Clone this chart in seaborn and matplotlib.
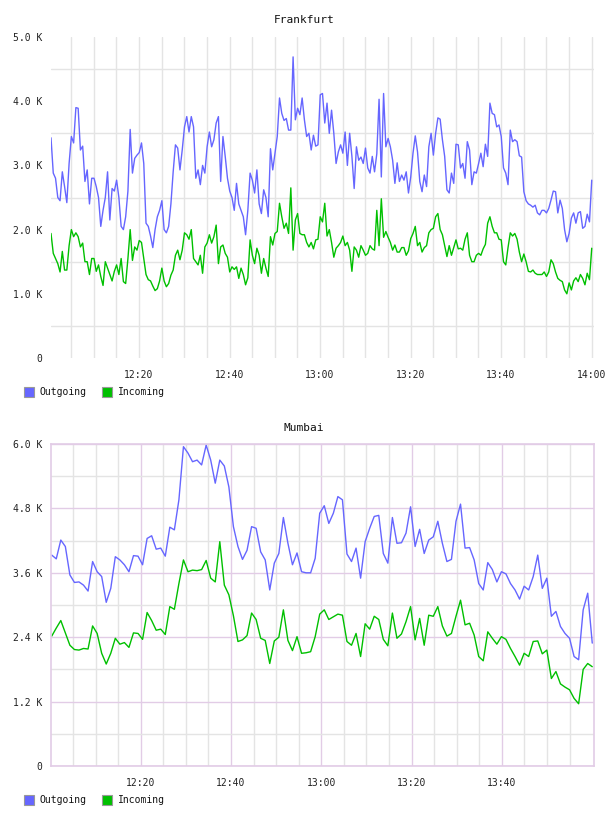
import numpy as np
import pandas as pd
import matplotlib
matplotlib.use("Agg")
import matplotlib.pyplot as plt
from matplotlib.patches import Rectangle
import seaborn as sns

sns.set_theme(style="white")
plt.rcParams['font.family'] = ['DejaVu Sans Mono', 'DejaVu Sans']

# ---------------- data ----------------
series_names = ["Outgoing", "Incoming"]
series_colors = ["#6666ff", "#00c000"]
panel_titles = ["Frankfurt", "Mumbai"]

# minutes after 12:00 for tick marks
time_ticks = [20, 40, 60, 80, 100, 120]
time_labels = ["12:20", "12:40", "13:00", "13:20", "13:40", "14:00"]

fra_yticks = [0, 1, 2, 3, 4, 5]
fra_ylabels = ["0", "1.0 K", "2.0 K", "3.0 K", "4.0 K", "5.0 K"]
mum_yticks = [0, 1.2, 2.4, 3.6, 4.8, 6.0]
mum_ylabels = ["0", "1.2 K", "2.4 K", "3.6 K", "4.8 K", "6.0 K"]

# Frankfurt: values in thousands, one sample every 30 s
fra_out = [3.43, 2.88, 2.80, 2.50, 2.45, 2.90, 2.67, 2.42, 3.03, 3.45,
           3.35, 3.90, 3.89, 3.24, 3.30, 2.75, 2.93, 2.40, 2.80, 2.80,
           2.67, 2.50, 2.05, 2.30, 2.50, 2.90, 2.15, 2.64, 2.60, 2.77,
           2.50, 2.05, 2.00, 2.20, 2.60, 3.56, 2.88, 3.11, 3.16, 3.20,
           3.35, 3.03, 2.10, 2.05, 1.90, 1.72, 2.00, 2.20, 2.30, 2.45,
           2.00, 1.95, 2.05, 2.40, 2.90, 3.32, 3.27, 2.93, 3.24, 3.60,
           3.76, 3.52, 3.76, 3.60, 2.80, 2.93, 2.70, 3.00, 2.88, 3.29,
           3.52, 3.29, 3.40, 3.66, 3.76, 2.75, 3.45, 3.14, 2.80, 2.60,
           2.50, 2.30, 2.72, 2.40, 2.30, 2.20, 1.92, 2.30, 2.88, 2.77,
           2.57, 2.93, 2.40, 2.25, 2.62, 2.50, 2.20, 3.26, 2.93, 3.19,
           3.45, 4.05, 3.81, 3.70, 3.73, 3.55, 3.55, 4.69, 3.71, 3.89,
           3.79, 4.05, 3.71, 3.45, 3.50, 3.24, 3.47, 3.30, 3.32, 4.10,
           4.12, 3.66, 3.97, 3.50, 3.86, 3.50, 3.03, 3.21, 3.32, 3.19,
           3.52, 3.00, 3.50, 3.14, 2.64, 3.29, 3.08, 3.13, 3.03, 3.27,
           2.96, 2.88, 3.14, 2.90, 3.18, 4.03, 2.82, 4.12, 3.29, 3.42,
           3.29, 3.08, 2.72, 3.04, 2.75, 2.85, 2.77, 2.90, 2.57, 2.82,
           3.19, 3.46, 3.21, 2.75, 2.59, 2.85, 2.67, 3.29, 3.50, 3.16,
           3.50, 3.74, 3.72, 3.40, 3.14, 2.62, 2.57, 2.88, 2.72, 3.33,
           3.32, 2.96, 3.03, 2.80, 3.37, 3.24, 2.70, 2.90, 2.88, 3.03,
           3.19, 2.98, 3.33, 3.14, 3.97, 3.81, 3.79, 3.60, 3.63, 3.45,
           2.96, 2.88, 2.70, 3.55, 3.37, 3.40, 3.37, 3.15, 3.13, 2.59,
           2.45, 2.40, 2.38, 2.35, 2.38, 2.26, 2.23, 2.30, 2.30, 2.26,
           2.33, 2.46, 2.60, 2.59, 2.26, 2.46, 2.33, 2.00, 1.81, 1.94,
           2.18, 2.26, 2.10, 2.26, 2.28, 2.02, 2.05, 2.24, 2.12, 2.77]

fra_in = [1.94, 1.63, 1.55, 1.47, 1.34, 1.66, 1.37, 1.37, 1.75, 2.00,
          1.89, 1.95, 1.89, 1.73, 1.79, 1.50, 1.50, 1.30, 1.55, 1.55,
          1.35, 1.45, 1.27, 1.13, 1.50, 1.40, 1.30, 1.20, 1.35, 1.45,
          1.30, 1.55, 1.19, 1.16, 1.55, 2.00, 1.52, 1.73, 1.68, 1.83,
          1.80, 1.55, 1.30, 1.22, 1.20, 1.12, 1.05, 1.08, 1.20, 1.40,
          1.20, 1.11, 1.16, 1.29, 1.37, 1.60, 1.68, 1.53, 1.68, 1.95,
          1.92, 1.85, 2.00, 1.55, 1.50, 1.45, 1.60, 1.32, 1.73, 1.79,
          1.92, 1.79, 1.89, 2.07, 1.47, 1.73, 1.76, 1.63, 1.57, 1.34,
          1.42, 1.38, 1.42, 1.24, 1.40, 1.30, 1.14, 1.25, 1.84, 1.60,
          1.47, 1.71, 1.60, 1.32, 1.55, 1.40, 1.27, 1.89, 1.76, 1.94,
          1.97, 2.41, 2.20, 2.02, 2.10, 1.94, 2.65, 1.68, 2.15, 2.25,
          1.94, 1.92, 1.92, 1.80, 1.73, 1.80, 1.70, 1.84, 1.85, 2.20,
          2.12, 2.41, 1.90, 2.00, 1.80, 1.57, 1.71, 1.75, 1.80, 1.90,
          1.75, 1.80, 1.68, 1.35, 1.73, 1.68, 1.57, 1.75, 1.68, 1.60,
          1.63, 1.75, 1.70, 1.68, 2.30, 1.75, 2.48, 1.88, 1.97, 1.88,
          1.80, 1.68, 1.76, 1.65, 1.65, 1.72, 1.72, 1.60, 1.67, 1.86,
          1.94, 2.05, 1.75, 1.80, 1.65, 1.72, 1.75, 1.95, 2.00, 2.02,
          2.20, 2.25, 2.00, 1.92, 1.75, 1.58, 1.75, 1.60, 1.72, 1.84,
          1.70, 1.71, 1.68, 1.85, 1.95, 1.60, 1.50, 1.50, 1.60, 1.63,
          1.60, 1.70, 1.77, 2.10, 2.20, 2.05, 1.95, 1.95, 1.85, 1.84,
          1.50, 1.45, 1.72, 1.95, 1.90, 1.94, 1.85, 1.65, 1.50, 1.62,
          1.50, 1.35, 1.34, 1.37, 1.32, 1.30, 1.30, 1.30, 1.34, 1.27,
          1.34, 1.53, 1.47, 1.34, 1.24, 1.21, 1.19, 1.06, 1.00, 1.17,
          1.06, 1.20, 1.25, 1.19, 1.30, 1.24, 1.14, 1.32, 1.22, 1.71]

# Mumbai: values in thousands, about one sample per minute
mum_out = [3.93, 3.86, 4.21, 4.09, 3.56, 3.42, 3.43, 3.37, 3.26, 3.81,
           3.62, 3.53, 3.05, 3.31, 3.90, 3.84, 3.75, 3.62, 3.92, 3.91,
           3.75, 4.24, 4.29, 4.04, 4.06, 3.91, 4.45, 4.40, 4.96, 5.95,
           5.83, 5.67, 5.70, 5.61, 5.98, 5.70, 5.27, 5.70, 5.59, 5.20,
           4.46, 4.09, 3.85, 4.02, 4.46, 4.43, 3.99, 3.84, 3.28, 3.78,
           3.96, 4.63, 4.15, 3.75, 3.97, 3.62, 3.60, 3.60, 3.87, 4.71,
           4.85, 4.52, 4.71, 5.02, 4.96, 3.95, 3.81, 4.06, 3.50, 4.18,
           4.43, 4.65, 4.67, 3.96, 3.78, 4.63, 4.15, 4.16, 4.34, 4.83,
           4.09, 4.41, 3.96, 4.21, 4.27, 4.56, 4.15, 3.81, 3.85, 4.56,
           4.88, 4.06, 4.07, 3.84, 3.40, 3.28, 3.79, 3.66, 3.43, 3.62,
           3.58, 3.40, 3.28, 3.11, 3.35, 3.28, 3.53, 3.93, 3.31, 3.50,
           2.79, 2.88, 2.60, 2.47, 2.38, 2.04, 1.98, 2.91, 3.22, 2.29]

mum_in = [2.42, 2.57, 2.71, 2.48, 2.25, 2.17, 2.16, 2.19, 2.18, 2.61,
          2.47, 2.10, 1.90, 2.10, 2.38, 2.27, 2.30, 2.21, 2.48, 2.47,
          2.36, 2.86, 2.71, 2.53, 2.55, 2.45, 2.97, 2.92, 3.40, 3.84,
          3.62, 3.65, 3.64, 3.66, 3.83, 3.50, 3.43, 4.18, 3.37, 3.19,
          2.80, 2.32, 2.35, 2.43, 2.85, 2.73, 2.38, 2.34, 1.91, 2.33,
          2.40, 2.91, 2.34, 2.15, 2.41, 2.10, 2.11, 2.13, 2.41, 2.83,
          2.91, 2.73, 2.78, 2.83, 2.81, 2.32, 2.25, 2.47, 2.04, 2.65,
          2.55, 2.79, 2.73, 2.36, 2.24, 2.85, 2.38, 2.46, 2.69, 2.97,
          2.35, 2.75, 2.25, 2.81, 2.79, 2.97, 2.61, 2.42, 2.47, 2.79,
          3.09, 2.63, 2.66, 2.44, 2.04, 1.96, 2.50, 2.38, 2.27, 2.41,
          2.36, 2.19, 2.04, 1.88, 2.10, 2.04, 2.32, 2.33, 2.09, 2.16,
          1.63, 1.76, 1.53, 1.47, 1.42, 1.26, 1.16, 1.80, 1.91, 1.85]

fra_start, fra_step = 0.55, 0.5      # minutes after 12:00
mum_start, mum_step = 0.30, 1.006

# ---------------- figure ----------------
W, H = 608, 816
fig = plt.figure(figsize=(W / 100, H / 100), dpi=100)
fig.patch.set_facecolor("white")

def px_rect(left, top, right, bottom):
    return [left / W, 1 - bottom / H, (right - left) / W, (bottom - top) / H]

ax1 = fig.add_axes(px_rect(51, 37, 594, 358))
ax2 = fig.add_axes(px_rect(51, 444, 594, 766))

palette = dict(zip(series_names, series_colors))

def long_df(start, step, out_vals, in_vals):
    t = start + step * np.arange(len(out_vals))
    return pd.DataFrame({
        "minute": np.concatenate([t, t]),
        "value": np.concatenate([out_vals, in_vals]),
        "series": [series_names[0]] * len(out_vals) + [series_names[1]] * len(in_vals),
    })

df1 = long_df(fra_start, fra_step, fra_out, fra_in)
df2 = long_df(mum_start, mum_step, mum_out, mum_in)

for ax, df in [(ax1, df1), (ax2, df2)]:
    sns.lineplot(data=df, x="minute", y="value", hue="series", palette=palette,
                 hue_order=series_names, ax=ax, legend=False, linewidth=1.0,
                 estimator=None, sort=False)
    ax.set_xlabel("")
    ax.set_ylabel("")
    ax.set_facecolor("white")
    ax.set_axisbelow(True)
    ax.tick_params(axis="both", which="both", length=0, labelsize=7,
                   labelcolor="#222222")
    ax.tick_params(axis="y", pad=6)
    ax.tick_params(axis="x", pad=9)

gray = "#e4e4e4"
pink = "#e2cce6"

# Frankfurt styling
ax1.set_xlim(0.55, 120.55)
ax1.set_ylim(0, 5)
ax1.set_xticks(time_ticks, time_labels)
ax1.set_xticks([m for m in range(5, 121, 5) if m not in time_ticks], minor=True)
ax1.set_yticks(fra_yticks, fra_ylabels)
ax1.set_yticks([0.5, 1.5, 2.5, 3.5, 4.5], minor=True)
ax1.xaxis.grid(True, which="both", color=gray, linewidth=1)
ax1.yaxis.grid(True, which="minor", color=gray, linewidth=1)
ax1.yaxis.grid(False, which="major")
for s in ax1.spines.values():
    s.set_visible(False)

# Mumbai styling
ax2.set_xlim(0.14, 120.4)
ax2.set_ylim(0, 6)
ax2.set_xticks(time_ticks[:-1], time_labels[:-1])
ax2.set_xticks([m for m in range(5, 120, 5) if m not in time_ticks], minor=True)
ax2.set_yticks(mum_yticks, mum_ylabels)
ax2.set_yticks([0.6, 1.8, 3.0, 4.2, 5.4], minor=True)
ax2.xaxis.grid(True, which="major", color=pink, linewidth=1)
ax2.xaxis.grid(True, which="minor", color=gray, linewidth=1)
ax2.yaxis.grid(True, which="major", color=pink, linewidth=1)
ax2.yaxis.grid(True, which="minor", color=gray, linewidth=1)
for s in ax2.spines.values():
    s.set_visible(True)
    s.set_color(pink)
    s.set_linewidth(1.2)

# titles
fig.text(0.5, 1 - 20 / H, panel_titles[0], ha="center", va="center",
         fontsize=8, color="#111111")
fig.text(0.5, 1 - 428 / H, panel_titles[1], ha="center", va="center",
         fontsize=8, color="#111111")

# legends
def draw_legend(yc):
    xs = [(24, 39), (102, 118)]
    for (sx, tx), name, col in zip(xs, series_names, series_colors):
        fig.add_artist(Rectangle((sx / W, 1 - (yc + 5) / H), 10 / W, 10 / H,
                                 transform=fig.transFigure, facecolor=col,
                                 edgecolor="#999999", linewidth=0.8))
        fig.text(tx / W, 1 - yc / H, name, ha="left", va="center",
                 fontsize=7, color="#111111")

draw_legend(392)
draw_legend(800)

fig.savefig("out.png", dpi=100, facecolor="white")
